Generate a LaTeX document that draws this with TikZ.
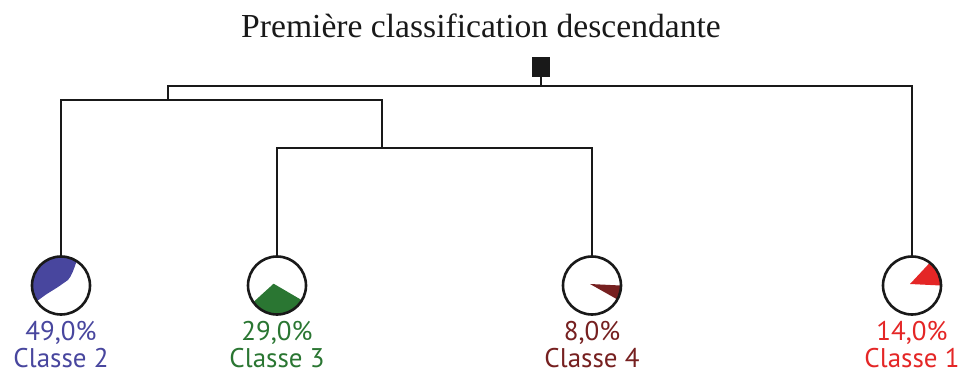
\documentclass[tikz,border=0pt]{standalone}
\usepackage{fontspec}
\setmainfont{Liberation Serif}
\newfontfamily\labfont{PT Sans}
\definecolor{cl1}{RGB}{228,38,38}
\definecolor{cl2}{RGB}{72,70,158}
\definecolor{cl3}{RGB}{42,118,50}
\definecolor{cl4}{RGB}{118,32,32}
\tikzstyle{link}=[draw, line width=2.2pt, black!90]
\tikzstyle{root}=[rectangle, fill=black!90, minimum width=18pt, minimum height=20pt, inner sep=0pt]
\tikzstyle{classe}=[circle, draw, black!90, line width=2.6pt, minimum size=58pt, inner sep=0pt]
\tikzstyle{lab}=[anchor=base, inner sep=0pt, font=\labfont\fontsize{27}{30}\selectfont]
\tikzstyle{title}=[anchor=base, inner sep=0pt, text=black!90, font=\fontsize{33.6}{36}\selectfont]
\newcommand{\classe}{\node[classe]}

\begin{document}
\begin{tikzpicture}[x=1pt, y=1pt]
\useasboundingbox (0,0) rectangle (961,383);
\node[title] (t) at (481,345) {Première classification descendante};
\node[root] (root) at (541,316) {};
\coordinate (a) at (168,297);
\coordinate (b) at (382,283);
\coordinate (d) at (382,235);
\fill[cl2, shift={(61,97.5)}]
  (57:28.5) arc[start angle=57, end angle=213, radius=28.5] -- (-15,-9) -- (-3,-1.5) -- (7,5.5)
  .. controls (11,10) and (13,17) .. cycle;
\fill[cl3, shift={(277,97.5)}]
  (215:28.5) -- (-3.4,1.8) -- (-30.6:28.5) arc[start angle=-30.6, end angle=-145, radius=28.5] -- cycle;
\fill[cl4, shift={(592,97.5)}]
  (-2,1.5) -- (-28.8:28.5) arc[start angle=-28.8, end angle=0, radius=28.5] -- cycle;
\fill[cl1, shift={(912,97.5)}]
  (-2,1.5) -- (0:28.5) arc[start angle=0, end angle=52, radius=28.5] -- cycle;
\classe (c2) at (61,97.5) {};
\classe (c3) at (277,97.5) {};
\classe (c4) at (592,97.5) {};
\classe (c1) at (912,97.5) {};
\node[lab, text=cl2] (p2) at (61,42.5) {49,0\%};
\node[lab, text=cl2] (n2) at (61,16) {Classe 2};
\node[lab, text=cl3] (p3) at (277,42.5) {29,0\%};
\node[lab, text=cl3] (n3) at (277,16) {Classe 3};
\node[lab, text=cl4] (p4) at (592,42.5) {8,0\%};
\node[lab, text=cl4] (n4) at (592,16) {Classe 4};
\node[lab, text=cl1] (p1) at (912,42.5) {14,0\%};
\node[lab, text=cl1] (n1) at (912,16) {Classe 1};
\path[link]
(root.south) -- (root.south |- a)
(c1.north) |- (a) -- (a |- b)
(c2.north) |- (b) -- (d)
(c3.north) |- (d) -| (c4.north)
;
\end{tikzpicture}
\end{document}
